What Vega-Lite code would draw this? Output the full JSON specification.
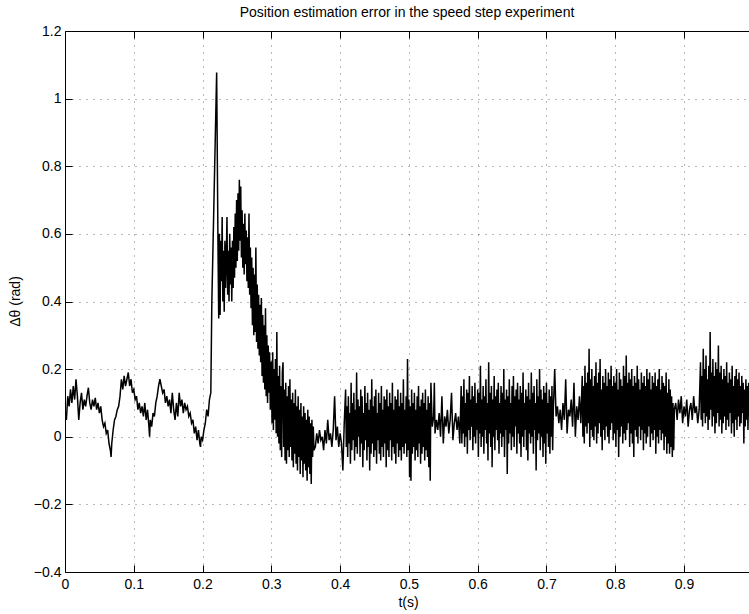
{
"$schema": "https://vega.github.io/schema/vega-lite/v6.json",
"autosize": {"type": "none"},
"padding": {"left": 65, "top": 31, "right": 0, "bottom": 42},
"width": 684,
"height": 541,
"title": {"text": "Position estimation error in the speed step experiment", "fontSize": 14, "fontWeight": "normal", "font": "Liberation Sans", "color": "#000", "anchor": "middle", "offset": 4},
"config": {"view": {"stroke": null}, "font": "Liberation Sans",
 "axis": {"labelFont": "Liberation Sans", "labelFontSize": 14, "labelColor": "#000", "titleFont": "Liberation Sans", "titleFontSize": 14, "titleFontWeight": "normal", "titleColor": "#000", "domainColor": "#000", "domainWidth": 1, "tickColor": "#000", "tickSize": -7, "gridColor": "#000", "gridOpacity": 0.55, "gridDash": [1, 6], "gridWidth": 1}},
"data": {"values": [
{"t":0,"v":0.07},{"t":0.002,"v":0.05},{"t":0.004,"v":0.12},{"t":0.006,"v":0.09},{"t":0.008,"v":0.14},{"t":0.01,"v":0.1},{"t":0.012,"v":0.15},{"t":0.014,"v":0.11},{"t":0.016,"v":0.17},{"t":0.018,"v":0.12},{"t":0.02,"v":0.05},{"t":0.022,"v":0.1},{"t":0.024,"v":0.13},{"t":0.026,"v":0.08},{"t":0.028,"v":0.11},{"t":0.03,"v":0.09},{"t":0.032,"v":0.12},{"t":0.034,"v":0.145},{"t":0.036,"v":0.1},{"t":0.038,"v":0.08},{"t":0.04,"v":0.11},{"t":0.042,"v":0.09},{"t":0.044,"v":0.115},{"t":0.046,"v":0.08},{"t":0.048,"v":0.1},{"t":0.05,"v":0.07},{"t":0.052,"v":0.09},{"t":0.054,"v":0.05},{"t":0.056,"v":0.03},{"t":0.058,"v":0.04},{"t":0.06,"v":0.01},{"t":0.062,"v":0.02},{"t":0.064,"v":-0.02},{"t":0.066,"v":-0.04},{"t":0.067,"v":-0.06},{"t":0.068,"v":-0.02},{"t":0.07,"v":0.02},{"t":0.072,"v":0.05},{"t":0.074,"v":0.06},{"t":0.076,"v":0.08},{"t":0.078,"v":0.09},{"t":0.08,"v":0.12},{"t":0.082,"v":0.17},{"t":0.084,"v":0.14},{"t":0.086,"v":0.18},{"t":0.088,"v":0.15},{"t":0.09,"v":0.17},{"t":0.092,"v":0.19},{"t":0.094,"v":0.15},{"t":0.096,"v":0.17},{"t":0.098,"v":0.13},{"t":0.1,"v":0.14},{"t":0.102,"v":0.11},{"t":0.104,"v":0.12},{"t":0.106,"v":0.08},{"t":0.108,"v":0.1},{"t":0.11,"v":0.07},{"t":0.112,"v":0.09},{"t":0.114,"v":0.06},{"t":0.116,"v":0.1},{"t":0.118,"v":0.05},{"t":0.12,"v":0.08},{"t":0.122,"v":0.03},{"t":0.123,"v":0.0},{"t":0.124,"v":0.05},{"t":0.126,"v":0.03},{"t":0.128,"v":0.07},{"t":0.13,"v":0.06},{"t":0.132,"v":0.1},{"t":0.134,"v":0.12},{"t":0.136,"v":0.15},{"t":0.138,"v":0.17},{"t":0.14,"v":0.15},{"t":0.142,"v":0.13},{"t":0.144,"v":0.14},{"t":0.146,"v":0.1},{"t":0.148,"v":0.12},{"t":0.15,"v":0.09},{"t":0.152,"v":0.11},{"t":0.154,"v":0.07},{"t":0.156,"v":0.13},{"t":0.158,"v":0.08},{"t":0.16,"v":0.05},{"t":0.162,"v":0.1},{"t":0.164,"v":0.06},{"t":0.166,"v":0.13},{"t":0.168,"v":0.09},{"t":0.17,"v":0.11},{"t":0.172,"v":0.07},{"t":0.174,"v":0.1},{"t":0.176,"v":0.08},{"t":0.178,"v":0.09},{"t":0.18,"v":0.06},{"t":0.182,"v":0.07},{"t":0.184,"v":0.04},{"t":0.186,"v":0.05},{"t":0.188,"v":0.01},{"t":0.19,"v":0.03},{"t":0.192,"v":-0.01},{"t":0.194,"v":0.02},{"t":0.196,"v":-0.02},{"t":0.197,"v":-0.03},{"t":0.198,"v":0.0},{"t":0.2,"v":-0.01},{"t":0.202,"v":0.02},{"t":0.204,"v":0.04},{"t":0.206,"v":0.08},{"t":0.208,"v":0.06},{"t":0.21,"v":0.11},{"t":0.212,"v":0.13},
{"t":0.2135,"v":0.4},{"t":0.2205,"v":1.077},{"t":0.2225,"v":0.55},{"t":0.2235,"v":0.35},{"t":0.2245,"v":0.6},{"t":0.2255,"v":0.36},{"t":0.2265,"v":0.58},{"t":0.2275,"v":0.46},{"t":0.2285,"v":0.65},{"t":0.2295,"v":0.4},{"t":0.2305,"v":0.55},{"t":0.2315,"v":0.37},{"t":0.2325,"v":0.58},{"t":0.2335,"v":0.44},{"t":0.2345,"v":0.52},{"t":0.2355,"v":0.65},{"t":0.2365,"v":0.42},{"t":0.2375,"v":0.55},{"t":0.2385,"v":0.4},{"t":0.2395,"v":0.6},{"t":0.2405,"v":0.45},{"t":0.2415,"v":0.56},{"t":0.2425,"v":0.4},{"t":0.2435,"v":0.58},{"t":0.2445,"v":0.44},{"t":0.2455,"v":0.62},{"t":0.2465,"v":0.47},{"t":0.2475,"v":0.66},{"t":0.2485,"v":0.5},{"t":0.2495,"v":0.7},{"t":0.2505,"v":0.52},{"t":0.2515,"v":0.72},{"t":0.2525,"v":0.55},{"t":0.2535,"v":0.76},{"t":0.2545,"v":0.58},{"t":0.2555,"v":0.74},{"t":0.2565,"v":0.53},{"t":0.2575,"v":0.67},{"t":0.2585,"v":0.5},{"t":0.2595,"v":0.63},{"t":0.2605,"v":0.48},{"t":0.2615,"v":0.66},{"t":0.2625,"v":0.51},{"t":0.2635,"v":0.61},{"t":0.2645,"v":0.46},{"t":0.2655,"v":0.59},{"t":0.2665,"v":0.44},{"t":0.2675,"v":0.66},{"t":0.2685,"v":0.42},{"t":0.2695,"v":0.56},{"t":0.2705,"v":0.38},{"t":0.2715,"v":0.53},{"t":0.2725,"v":0.33},{"t":0.2735,"v":0.5},{"t":0.2745,"v":0.3},{"t":0.2755,"v":0.48},{"t":0.2765,"v":0.31},{"t":0.2775,"v":0.56},{"t":0.2785,"v":0.28},{"t":0.2795,"v":0.45},{"t":0.2805,"v":0.26},{"t":0.2815,"v":0.42},{"t":0.2825,"v":0.24},{"t":0.2835,"v":0.39},{"t":0.2845,"v":0.22},{"t":0.2855,"v":0.41},{"t":0.2865,"v":0.18},{"t":0.2875,"v":0.36},{"t":0.2885,"v":0.16},{"t":0.2895,"v":0.33},{"t":0.2905,"v":0.14},{"t":0.2915,"v":0.38},{"t":0.2925,"v":0.12},{"t":0.2935,"v":0.3},{"t":0.2945,"v":0.1},{"t":0.2955,"v":0.27},{"t":0.2965,"v":0.13},{"t":0.2975,"v":0.25},{"t":0.2985,"v":0.08},{"t":0.2995,"v":0.22},
{"t":0.3,"v":0.22},{"t":0.301,"v":0.04},{"t":0.302,"v":0.25},{"t":0.303,"v":0.02},{"t":0.304,"v":0.2},{"t":0.305,"v":0.05},{"t":0.306,"v":0.23},{"t":0.307,"v":0.01},{"t":0.308,"v":0.31},{"t":0.309,"v":0.0},{"t":0.31,"v":0.18},{"t":0.311,"v":-0.02},{"t":0.312,"v":0.21},{"t":0.313,"v":-0.04},{"t":0.314,"v":0.15},{"t":0.315,"v":-0.06},{"t":0.316,"v":0.19},{"t":0.317,"v":0.22},{"t":0.318,"v":-0.03},{"t":0.319,"v":0.14},{"t":0.32,"v":-0.07},{"t":0.321,"v":0.16},{"t":0.322,"v":-0.08},{"t":0.323,"v":0.12},{"t":0.324,"v":-0.04},{"t":0.325,"v":0.15},{"t":0.326,"v":-0.06},{"t":0.327,"v":0.17},{"t":0.328,"v":-0.03},{"t":0.329,"v":0.11},{"t":0.33,"v":-0.07},{"t":0.331,"v":0.13},{"t":0.332,"v":-0.09},{"t":0.333,"v":0.1},{"t":0.334,"v":-0.05},{"t":0.335,"v":0.14},{"t":0.336,"v":-0.08},{"t":0.337,"v":0.09},{"t":0.338,"v":-0.1},{"t":0.339,"v":0.12},{"t":0.34,"v":-0.06},{"t":0.341,"v":0.08},{"t":0.342,"v":-0.11},{"t":0.343,"v":0.1},{"t":0.344,"v":-0.07},{"t":0.345,"v":0.06},{"t":0.346,"v":-0.12},{"t":0.347,"v":0.09},{"t":0.348,"v":-0.08},{"t":0.349,"v":0.07},{"t":0.35,"v":-0.1},{"t":0.351,"v":0.05},{"t":0.352,"v":-0.13},{"t":0.353,"v":0.08},{"t":0.354,"v":-0.09},{"t":0.355,"v":0.06},{"t":0.356,"v":-0.11},{"t":0.357,"v":0.04},{"t":0.358,"v":-0.14},{"t":0.359,"v":0.05},{"t":0.36,"v":-0.06},{"t":0.361,"v":0.03},{"t":0.362,"v":-0.04},
{"t":0.364,"v":-0.03},{"t":0.366,"v":0.01},{"t":0.368,"v":-0.02},{"t":0.37,"v":0.02},{"t":0.372,"v":-0.01},{"t":0.374,"v":0.0},{"t":0.376,"v":-0.04},{"t":0.378,"v":0.02},{"t":0.38,"v":-0.02},{"t":0.382,"v":0.05},{"t":0.384,"v":-0.01},{"t":0.386,"v":0.01},{"t":0.388,"v":-0.03},{"t":0.39,"v":0.02},{"t":0.392,"v":0.12},{"t":0.394,"v":-0.01},{"t":0.396,"v":0.03},{"t":0.398,"v":-0.03},{"t":0.4,"v":0.01},{"t":0.402,"v":-0.02},{"t":0.404,"v":-0.1},{"t":0.406,"v":0.04},
{"t":0.408,"v":0.14},{"t":0.409,"v":-0.03},{"t":0.41,"v":0.09},{"t":0.411,"v":-0.06},{"t":0.412,"v":0.12},{"t":0.413,"v":-0.02},{"t":0.414,"v":0.07},{"t":0.415,"v":-0.08},{"t":0.416,"v":0.16},{"t":0.417,"v":-0.04},{"t":0.418,"v":0.1},{"t":0.419,"v":-0.01},{"t":0.42,"v":0.13},{"t":0.421,"v":-0.07},{"t":0.422,"v":0.08},{"t":0.423,"v":-0.03},{"t":0.424,"v":0.19},{"t":0.425,"v":-0.05},{"t":0.426,"v":0.11},{"t":0.427,"v":0.0},{"t":0.428,"v":0.09},{"t":0.429,"v":-0.06},{"t":0.43,"v":0.14},{"t":0.431,"v":-0.02},{"t":0.432,"v":0.12},{"t":0.433,"v":-0.09},{"t":0.434,"v":0.07},{"t":0.435,"v":-0.04},{"t":0.436,"v":0.15},{"t":0.437,"v":-0.01},{"t":0.438,"v":0.1},{"t":0.439,"v":-0.07},{"t":0.44,"v":0.13},{"t":0.441,"v":-0.03},{"t":0.442,"v":0.08},{"t":0.443,"v":-0.1},{"t":0.444,"v":0.11},{"t":0.445,"v":-0.05},{"t":0.446,"v":0.17},{"t":0.447,"v":-0.02},{"t":0.448,"v":0.09},{"t":0.449,"v":-0.06},{"t":0.45,"v":0.12},{"t":0.451,"v":-0.04},{"t":0.452,"v":0.14},{"t":0.453,"v":-0.08},{"t":0.454,"v":0.07},{"t":0.455,"v":-0.01},{"t":0.456,"v":0.13},{"t":0.457,"v":-0.05},{"t":0.458,"v":0.1},{"t":0.459,"v":-0.07},{"t":0.46,"v":0.15},{"t":0.461,"v":-0.03},{"t":0.462,"v":0.08},{"t":0.463,"v":-0.06},{"t":0.464,"v":0.12},{"t":0.465,"v":-0.02},{"t":0.466,"v":0.11},{"t":0.467,"v":-0.09},{"t":0.468,"v":0.14},{"t":0.469,"v":-0.04},{"t":0.47,"v":0.09},{"t":0.471,"v":-0.06},{"t":0.472,"v":0.13},{"t":0.473,"v":-0.01},{"t":0.474,"v":0.1},{"t":0.475,"v":-0.07},{"t":0.476,"v":0.16},{"t":0.477,"v":-0.03},{"t":0.478,"v":0.08},{"t":0.479,"v":-0.05},{"t":0.48,"v":0.12},{"t":0.481,"v":-0.08},{"t":0.482,"v":0.11},{"t":0.483,"v":-0.02},{"t":0.484,"v":0.14},{"t":0.485,"v":-0.06},{"t":0.486,"v":0.09},{"t":0.487,"v":-0.04},{"t":0.488,"v":0.13},{"t":0.489,"v":-0.07},{"t":0.49,"v":0.1},{"t":0.491,"v":-0.03},{"t":0.492,"v":0.17},{"t":0.493,"v":-0.05},{"t":0.494,"v":0.08},{"t":0.495,"v":-0.02},{"t":0.496,"v":0.12},{"t":0.497,"v":-0.06},{"t":0.498,"v":0.23},{"t":0.499,"v":-0.04},{"t":0.5,"v":0.11},{"t":0.501,"v":-0.12},{"t":0.502,"v":0.09},{"t":0.503,"v":-0.13},{"t":0.504,"v":0.14},{"t":0.505,"v":-0.05},{"t":0.506,"v":0.1},{"t":0.507,"v":-0.03},{"t":0.508,"v":0.13},{"t":0.509,"v":-0.07},{"t":0.51,"v":0.08},{"t":0.511,"v":-0.04},{"t":0.512,"v":0.12},{"t":0.513,"v":-0.06},{"t":0.514,"v":0.15},{"t":0.515,"v":-0.02},{"t":0.516,"v":0.09},{"t":0.517,"v":-0.08},{"t":0.518,"v":0.11},{"t":0.519,"v":-0.05},{"t":0.52,"v":0.13},{"t":0.521,"v":-0.03},{"t":0.522,"v":0.1},{"t":0.523,"v":-0.07},{"t":0.524,"v":0.14},{"t":0.525,"v":-0.04},{"t":0.526,"v":0.08},{"t":0.527,"v":-0.06},{"t":0.528,"v":0.12},{"t":0.529,"v":-0.09},{"t":0.53,"v":0.1},{"t":0.531,"v":-0.13},{"t":0.532,"v":0.16},
{"t":0.534,"v":0.03},{"t":0.536,"v":0.06},{"t":0.537,"v":0.16},{"t":0.538,"v":0.01},{"t":0.54,"v":0.05},{"t":0.542,"v":0.02},{"t":0.544,"v":0.07},{"t":0.546,"v":0.0},{"t":0.548,"v":0.12},{"t":0.55,"v":-0.02},{"t":0.552,"v":0.06},{"t":0.554,"v":0.03},{"t":0.556,"v":0.08},{"t":0.558,"v":0.01},{"t":0.56,"v":0.05},{"t":0.562,"v":0.13},{"t":0.564,"v":-0.01},{"t":0.566,"v":0.04},{"t":0.568,"v":0.07},{"t":0.57,"v":0.02},{"t":0.572,"v":0.06},{"t":0.574,"v":-0.02},
{"t":0.576,"v":0.15},{"t":0.577,"v":-0.02},{"t":0.578,"v":0.12},{"t":0.579,"v":0.01},{"t":0.58,"v":0.17},{"t":0.581,"v":-0.03},{"t":0.582,"v":0.1},{"t":0.583,"v":0.0},{"t":0.584,"v":0.14},{"t":0.585,"v":-0.05},{"t":0.586,"v":0.13},{"t":0.587,"v":0.02},{"t":0.588,"v":0.18},{"t":0.589,"v":-0.01},{"t":0.59,"v":0.11},{"t":0.591,"v":0.03},{"t":0.592,"v":0.15},{"t":0.593,"v":-0.04},{"t":0.594,"v":0.12},{"t":0.595,"v":0.0},{"t":0.596,"v":0.16},{"t":0.597,"v":-0.02},{"t":0.598,"v":0.1},{"t":0.599,"v":0.02},{"t":0.6,"v":0.14},{"t":0.601,"v":-0.06},{"t":0.602,"v":0.13},{"t":0.603,"v":0.01},{"t":0.604,"v":0.21},{"t":0.605,"v":-0.03},{"t":0.606,"v":0.11},{"t":0.607,"v":0.0},{"t":0.608,"v":0.15},{"t":0.609,"v":-0.05},{"t":0.61,"v":0.12},{"t":0.611,"v":0.02},{"t":0.612,"v":0.17},{"t":0.613,"v":-0.02},{"t":0.614,"v":0.1},{"t":0.615,"v":-0.07},{"t":0.616,"v":0.22},{"t":0.617,"v":0.01},{"t":0.618,"v":0.13},{"t":0.619,"v":-0.03},{"t":0.62,"v":0.15},{"t":0.621,"v":-0.09},{"t":0.622,"v":0.11},{"t":0.623,"v":0.0},{"t":0.624,"v":0.18},{"t":0.625,"v":-0.04},{"t":0.626,"v":0.12},{"t":0.627,"v":0.02},{"t":0.628,"v":0.14},{"t":0.629,"v":-0.01},{"t":0.63,"v":0.16},{"t":0.631,"v":-0.05},{"t":0.632,"v":0.1},{"t":0.633,"v":0.01},{"t":0.634,"v":0.15},{"t":0.635,"v":-0.03},{"t":0.636,"v":0.13},{"t":0.637,"v":0.0},{"t":0.638,"v":0.2},{"t":0.639,"v":-0.06},{"t":0.64,"v":0.11},{"t":0.641,"v":0.02},{"t":0.642,"v":0.14},{"t":0.643,"v":-0.11},{"t":0.644,"v":0.12},{"t":0.645,"v":-0.02},{"t":0.646,"v":0.17},{"t":0.647,"v":0.01},{"t":0.648,"v":0.1},{"t":0.649,"v":-0.04},{"t":0.65,"v":0.15},{"t":0.651,"v":0.0},{"t":0.652,"v":0.18},{"t":0.653,"v":-0.03},{"t":0.654,"v":0.12},{"t":0.655,"v":0.03},{"t":0.656,"v":0.14},{"t":0.657,"v":-0.05},{"t":0.658,"v":0.16},{"t":0.659,"v":0.01},{"t":0.66,"v":0.11},{"t":0.661,"v":-0.02},{"t":0.662,"v":0.15},{"t":0.663,"v":-0.06},{"t":0.664,"v":0.13},{"t":0.665,"v":0.0},{"t":0.666,"v":0.19},{"t":0.667,"v":-0.03},{"t":0.668,"v":0.1},{"t":0.669,"v":0.02},{"t":0.67,"v":0.14},{"t":0.671,"v":-0.04},{"t":0.672,"v":0.12},{"t":0.673,"v":-0.07},{"t":0.674,"v":0.16},{"t":0.675,"v":0.01},{"t":0.676,"v":0.11},{"t":0.677,"v":-0.02},{"t":0.678,"v":0.19},{"t":0.679,"v":0.0},{"t":0.68,"v":0.13},{"t":0.681,"v":-0.05},{"t":0.682,"v":0.15},{"t":0.683,"v":0.02},{"t":0.684,"v":0.1},{"t":0.685,"v":-0.1},{"t":0.686,"v":0.17},{"t":0.687,"v":-0.01},{"t":0.688,"v":0.12},{"t":0.689,"v":0.01},{"t":0.69,"v":0.2},{"t":0.691,"v":-0.04},{"t":0.692,"v":0.14},{"t":0.693,"v":0.0},{"t":0.694,"v":0.11},{"t":0.695,"v":-0.06},{"t":0.696,"v":0.15},{"t":0.697,"v":-0.02},{"t":0.698,"v":0.13},{"t":0.699,"v":-0.08},{"t":0.7,"v":0.16},{"t":0.701,"v":0.01},{"t":0.702,"v":0.1},{"t":0.703,"v":-0.03},{"t":0.704,"v":0.14},{"t":0.705,"v":-0.05},{"t":0.706,"v":0.12},{"t":0.707,"v":0.0},{"t":0.708,"v":0.15},{"t":0.709,"v":-0.04},{"t":0.71,"v":0.08},
{"t":0.712,"v":0.2},{"t":0.714,"v":0.06},{"t":0.716,"v":0.09},{"t":0.718,"v":0.04},{"t":0.72,"v":0.08},{"t":0.722,"v":0.02},{"t":0.724,"v":0.1},{"t":0.726,"v":0.05},{"t":0.728,"v":0.17},{"t":0.73,"v":0.01},{"t":0.732,"v":0.08},{"t":0.734,"v":0.06},{"t":0.736,"v":0.11},{"t":0.738,"v":0.03},{"t":0.74,"v":0.16},{"t":0.742,"v":0.0},{"t":0.744,"v":0.09},{"t":0.746,"v":0.05},{"t":0.748,"v":0.12},{"t":0.75,"v":0.04},
{"t":0.752,"v":0.18},{"t":0.753,"v":0.0},{"t":0.754,"v":0.15},{"t":0.755,"v":-0.02},{"t":0.756,"v":0.21},{"t":0.757,"v":0.03},{"t":0.758,"v":0.16},{"t":0.759,"v":0.01},{"t":0.76,"v":0.19},{"t":0.761,"v":0.04},{"t":0.762,"v":0.26},{"t":0.763,"v":-0.03},{"t":0.764,"v":0.17},{"t":0.765,"v":0.02},{"t":0.766,"v":0.2},{"t":0.767,"v":0.0},{"t":0.768,"v":0.15},{"t":0.769,"v":-0.01},{"t":0.77,"v":0.18},{"t":0.771,"v":0.03},{"t":0.772,"v":0.22},{"t":0.773,"v":-0.02},{"t":0.774,"v":0.16},{"t":0.775,"v":0.01},{"t":0.776,"v":0.19},{"t":0.777,"v":0.04},{"t":0.778,"v":0.23},{"t":0.779,"v":0.0},{"t":0.78,"v":0.14},{"t":0.781,"v":-0.04},{"t":0.782,"v":0.18},{"t":0.783,"v":0.02},{"t":0.784,"v":0.16},{"t":0.785,"v":-0.01},{"t":0.786,"v":0.2},{"t":0.787,"v":0.03},{"t":0.788,"v":0.15},{"t":0.789,"v":0.0},{"t":0.79,"v":0.19},{"t":0.791,"v":-0.02},{"t":0.792,"v":0.17},{"t":0.793,"v":0.02},{"t":0.794,"v":0.21},{"t":0.795,"v":0.04},{"t":0.796,"v":0.15},{"t":0.797,"v":-0.01},{"t":0.798,"v":0.18},{"t":0.799,"v":0.01},{"t":0.8,"v":0.16},{"t":0.801,"v":-0.03},{"t":0.802,"v":0.2},{"t":0.803,"v":0.02},{"t":0.804,"v":0.14},{"t":0.805,"v":-0.06},{"t":0.806,"v":0.19},{"t":0.807,"v":0.0},{"t":0.808,"v":0.17},{"t":0.809,"v":0.03},{"t":0.81,"v":0.15},{"t":0.811,"v":-0.02},{"t":0.812,"v":0.21},{"t":0.813,"v":0.01},{"t":0.814,"v":0.18},{"t":0.815,"v":-0.01},{"t":0.816,"v":0.24},{"t":0.817,"v":0.02},{"t":0.818,"v":0.16},{"t":0.819,"v":0.04},{"t":0.82,"v":0.19},{"t":0.821,"v":-0.03},{"t":0.822,"v":0.17},{"t":0.823,"v":0.01},{"t":0.824,"v":0.2},{"t":0.825,"v":-0.02},{"t":0.826,"v":0.15},{"t":0.827,"v":-0.06},{"t":0.828,"v":0.18},{"t":0.829,"v":0.02},{"t":0.83,"v":0.16},{"t":0.831,"v":0.0},{"t":0.832,"v":0.21},{"t":0.833,"v":-0.02},{"t":0.834,"v":0.17},{"t":0.835,"v":0.03},{"t":0.836,"v":0.14},{"t":0.837,"v":-0.01},{"t":0.838,"v":0.19},{"t":0.839,"v":0.02},{"t":0.84,"v":0.16},{"t":0.841,"v":-0.04},{"t":0.842,"v":0.18},{"t":0.843,"v":0.01},{"t":0.844,"v":0.15},{"t":0.845,"v":-0.02},{"t":0.846,"v":0.2},{"t":0.847,"v":0.0},{"t":0.848,"v":0.17},{"t":0.849,"v":0.03},{"t":0.85,"v":0.19},{"t":0.851,"v":-0.03},{"t":0.852,"v":0.14},{"t":0.853,"v":0.01},{"t":0.854,"v":0.18},{"t":0.855,"v":-0.01},{"t":0.856,"v":0.16},{"t":0.857,"v":0.02},{"t":0.858,"v":0.19},{"t":0.859,"v":-0.05},{"t":0.86,"v":0.15},{"t":0.861,"v":0.0},{"t":0.862,"v":0.17},{"t":0.863,"v":-0.02},{"t":0.864,"v":0.2},{"t":0.865,"v":0.02},{"t":0.866,"v":0.14},{"t":0.867,"v":-0.01},{"t":0.868,"v":0.18},{"t":0.869,"v":0.01},{"t":0.87,"v":0.16},{"t":0.871,"v":-0.04},{"t":0.872,"v":0.15},{"t":0.873,"v":0.0},{"t":0.874,"v":0.19},{"t":0.875,"v":-0.05},{"t":0.876,"v":0.13},{"t":0.877,"v":-0.02},{"t":0.878,"v":0.17},{"t":0.879,"v":-0.05},{"t":0.88,"v":0.14},{"t":0.881,"v":-0.03},{"t":0.882,"v":0.12},{"t":0.883,"v":-0.06},{"t":0.884,"v":0.1},{"t":0.885,"v":-0.04},{"t":0.886,"v":0.08},
{"t":0.888,"v":0.1},{"t":0.89,"v":0.05},{"t":0.892,"v":0.11},{"t":0.894,"v":0.07},{"t":0.896,"v":0.12},{"t":0.898,"v":0.04},{"t":0.9,"v":0.09},{"t":0.902,"v":0.06},{"t":0.904,"v":0.11},{"t":0.906,"v":0.03},{"t":0.908,"v":0.08},{"t":0.91,"v":0.1},{"t":0.912,"v":0.05},{"t":0.914,"v":0.12},{"t":0.916,"v":0.07},{"t":0.918,"v":0.09},{"t":0.92,"v":0.04},{"t":0.922,"v":0.08},
{"t":0.924,"v":0.22},{"t":0.925,"v":0.05},{"t":0.926,"v":0.18},{"t":0.927,"v":0.03},{"t":0.928,"v":0.26},{"t":0.929,"v":0.07},{"t":0.93,"v":0.2},{"t":0.931,"v":0.04},{"t":0.932,"v":0.24},{"t":0.933,"v":0.06},{"t":0.934,"v":0.17},{"t":0.935,"v":0.02},{"t":0.936,"v":0.21},{"t":0.937,"v":0.05},{"t":0.938,"v":0.31},{"t":0.939,"v":0.08},{"t":0.94,"v":0.19},{"t":0.941,"v":0.03},{"t":0.942,"v":0.23},{"t":0.943,"v":0.06},{"t":0.944,"v":0.18},{"t":0.945,"v":0.01},{"t":0.946,"v":0.22},{"t":0.947,"v":0.04},{"t":0.948,"v":0.2},{"t":0.949,"v":0.07},{"t":0.95,"v":0.27},{"t":0.951,"v":0.03},{"t":0.952,"v":0.19},{"t":0.953,"v":0.05},{"t":0.954,"v":0.21},{"t":0.955,"v":0.01},{"t":0.956,"v":0.17},{"t":0.957,"v":0.04},{"t":0.958,"v":0.2},{"t":0.959,"v":0.06},{"t":0.96,"v":0.18},{"t":0.961,"v":0.02},{"t":0.962,"v":0.22},{"t":0.963,"v":0.05},{"t":0.964,"v":0.16},{"t":0.965,"v":0.03},{"t":0.966,"v":0.19},{"t":0.967,"v":0.07},{"t":0.968,"v":0.17},{"t":0.969,"v":0.01},{"t":0.97,"v":0.21},{"t":0.971,"v":0.04},{"t":0.972,"v":0.15},{"t":0.973,"v":0.0},{"t":0.974,"v":0.18},{"t":0.975,"v":0.05},{"t":0.976,"v":0.2},{"t":0.977,"v":0.02},{"t":0.978,"v":0.17},{"t":0.979,"v":0.06},{"t":0.98,"v":0.19},{"t":0.981,"v":0.03},{"t":0.982,"v":0.15},{"t":0.983,"v":0.04},{"t":0.984,"v":0.18},{"t":0.985,"v":0.07},{"t":0.986,"v":0.16},{"t":0.987,"v":-0.02},{"t":0.988,"v":0.14},{"t":0.989,"v":0.03},{"t":0.99,"v":0.17},{"t":0.991,"v":0.05},{"t":0.992,"v":0.15},{"t":0.993,"v":0.02},{"t":0.994,"v":0.16},{"t":0.995,"v":0.06},{"t":0.996,"v":0.12}
]},
"layer": [
 {"mark": {"type": "line", "color": "#000", "strokeWidth": 1.5, "clip": true},
  "encoding": {
   "x": {"field": "t", "type": "quantitative", "scale": {"domain": [0, 0.9945], "nice": false, "zero": false},
     "axis": {"orient": "bottom", "values": [0,0.1,0.2,0.3,0.4,0.5,0.6,0.7,0.8,0.9], "format": "~g", "grid": true, "title": "t(s)", "labelPadding": 12, "labelFlush": false, "titleX": 343, "titleY": 30, "titleBaseline": "middle", "titleAlign": "center"}},
   "y": {"field": "v", "type": "quantitative", "scale": {"domain": [-0.4, 1.2], "nice": false, "zero": false},
     "axis": {"values": [-0.4,-0.2,0,0.2,0.4,0.6,0.8,1,1.2], "format": "~g", "grid": true, "title": "Δθ (rad)", "labelPadding": 11, "labelFlush": false, "titleX": -50, "titleY": 270, "titleAngle": -90, "titleBaseline": "middle", "titleAlign": "center"}}
  }},
 {"mark": {"type": "point", "opacity": 0},
  "encoding": {
   "x": {"field": "t", "type": "quantitative",
     "axis": {"orient": "top", "values": [0.1,0.2,0.3,0.4,0.5,0.6,0.7,0.8,0.9], "labels": false, "grid": false, "title": null, "domain": true}}
  }}
],
"resolve": {"axis": {"x": "independent"}}
}
